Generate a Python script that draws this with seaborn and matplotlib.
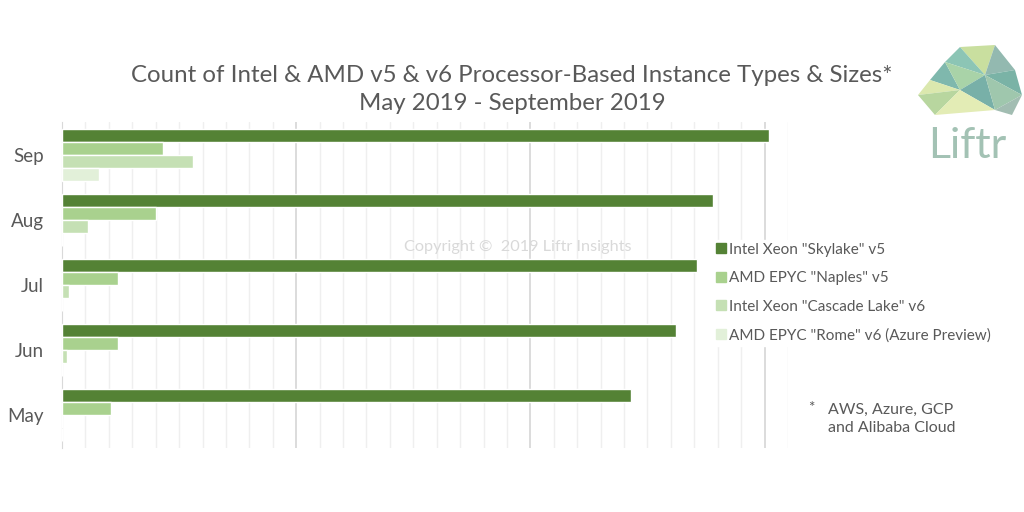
import matplotlib
matplotlib.use("Agg")
from matplotlib import pyplot as plt
from matplotlib.patches import Polygon
from matplotlib.ticker import MultipleLocator
from matplotlib.lines import Line2D
import seaborn as sns
import pandas as pd

# data
months = ['Sep', 'Aug', 'Jul', 'Jun', 'May']
skylake_v5 = [302, 278, 271, 262, 243]
naples_v5 = [43, 40, 24, 24, 21]
cascade_v6 = [56, 11, 3, 2, 0]
rome_v6 = [16, 0, 0, 0, 0]
series_names = ['Intel Xeon "Skylake" v5', 'AMD EPYC "Naples" v5',
                'Intel Xeon "Cascade Lake" v6', 'AMD EPYC "Rome" v6 (Azure Preview)']
series_colors = ['#548235', '#a9d18e', '#c5e0b4', '#e2f0d9']

rows = []
for name, vals in zip(series_names, [skylake_v5, naples_v5, cascade_v6, rome_v6]):
    for m, v in zip(months, vals):
        rows.append({'month': m, 'count': v, 'series': name})
df = pd.DataFrame(rows)

sns.set_style('white')
plt.rcParams['font.family'] = ['Lato', 'DejaVu Sans']
grey = '#595959'

fig = plt.figure(figsize=(10.24, 5.12), dpi=100)
ax = fig.add_axes([62 / 1024, 64 / 512, 726 / 1024, 326 / 512])

sns.barplot(data=df, y='month', x='count', hue='series', order=months,
            hue_order=series_names, palette=series_colors, orient='h',
            width=0.8, saturation=1, ax=ax, legend=False, zorder=3)

ax.set_xlim(0, 310)
ax.set_ylim(4.5, -0.5)
ax.xaxis.set_major_locator(MultipleLocator(100))
ax.xaxis.set_minor_locator(MultipleLocator(10))
ax.grid(which='minor', axis='x', color='#efefef', linewidth=1, zorder=0)
ax.grid(which='major', axis='x', color='#d6d6d6', linewidth=1.2, zorder=0)
ax.set_xticklabels([])
ax.tick_params(axis='x', which='both', length=0)
ax.tick_params(axis='y', length=0, pad=13, labelsize=13.5, labelcolor=grey)
ax.set_xlabel('')
ax.set_ylabel('')
for s in ['top', 'right', 'bottom']:
    ax.spines[s].set_visible(False)
ax.spines['left'].set_color('#d9d9d9')
ax.set_axisbelow(True)

# legend
handles = [Line2D([], [], marker='s', linestyle='none', markersize=7,
                  markerfacecolor=c, markeredgecolor=c) for c in series_colors]
fig.legend(handles, series_names, loc='upper left', bbox_to_anchor=(703 / 1024, 1 - 232 / 512),
           frameon=True, facecolor='white', edgecolor='white', framealpha=1,
           fontsize=11, labelspacing=0.95, handletextpad=0.1, handlelength=0.9,
           borderpad=0.2, labelcolor=grey)

# titles and notes
fig.text(0.5, 1 - 75 / 512, 'Count of Intel & AMD v5 & v6 Processor-Based Instance Types & Sizes*',
         ha='center', va='center', fontsize=17.3, color=grey)
fig.text(0.5, 1 - 103 / 512, 'May 2019 - September 2019',
         ha='center', va='center', fontsize=17.3, color=grey)
fig.text(518 / 1024, 1 - 247 / 512, 'Copyright \u00a9  2019 Liftr Insights',
         ha='center', va='center', fontsize=11.7, color='#d9d9d9')
fig.text(808 / 1024, 1 - 408 / 512, '*', ha='left', va='center', fontsize=11, color=grey)
fig.text(828 / 1024, 1 - 419 / 512, 'AWS, Azure, GCP\nand Alibaba Cloud',
         ha='left', va='center', fontsize=11.5, color=grey, linespacing=1.45)

# logo
W, H = 1024, 512
tris = [
    ([(960, 47), (995, 45), (985, 75)], '#c9df9f'),
    ([(945, 62), (960, 47), (985, 75)], '#8cc5b5'),
    ([(930, 80), (945, 62), (960, 90)], '#7fb8ad'),
    ([(945, 62), (985, 75), (960, 90)], '#a9d3a8'),
    ([(985, 75), (995, 45), (1015, 70)], '#93b9b0'),
    ([(985, 75), (1015, 70), (1022, 95)], '#7ab3a6'),
    ([(960, 90), (985, 75), (995, 110)], '#78b0a8'),
    ([(985, 75), (1022, 95), (995, 110)], '#9fc7ad'),
    ([(918, 95), (930, 80), (960, 90)], '#dbe8ae'),
    ([(918, 95), (960, 90), (935, 115)], '#b8d69f'),
    ([(935, 115), (960, 90), (995, 110)], '#e3ecb5'),
    ([(995, 110), (1022, 95), (1012, 115)], '#a2bdb2'),
]
for pts, col in tris:
    fig.patches.append(Polygon([(x / W, 1 - y / H) for x, y in pts], closed=True,
                               transform=fig.transFigure, facecolor=col, edgecolor='none'))
fig.text(967 / 1024, 1 - 146 / 512, 'Liftr', ha='center', va='center', fontsize=31,
         color='#a3c2b4')

fig.savefig('out.png', dpi=100, facecolor='white')
